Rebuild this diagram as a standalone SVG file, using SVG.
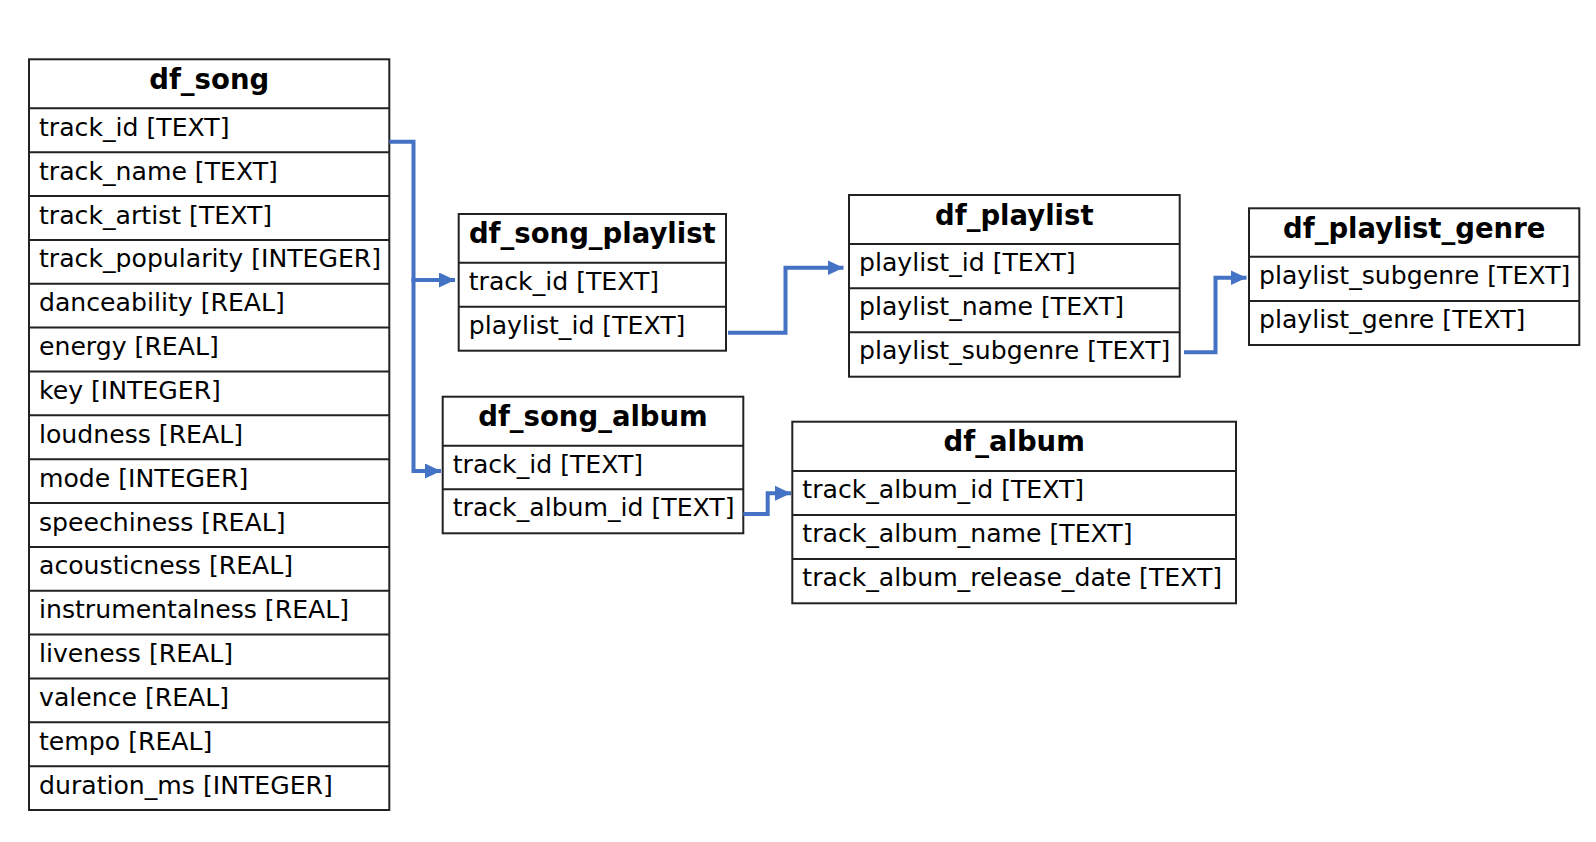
<svg xmlns="http://www.w3.org/2000/svg" width="1596" height="842" viewBox="0 0 1596 842">
<style>
.box{fill:#fff;stroke:#222;stroke-width:2}
.sep{stroke:#222;stroke-width:2}
.h{font-family:"DejaVu Sans",sans-serif;font-weight:bold;font-size:27.5px;fill:#000;text-anchor:middle}
.f{font-family:"DejaVu Sans",sans-serif;font-size:25.15px;fill:#000}
.c{fill:none;stroke:#4472C4;stroke-width:4}
</style>
<defs>
<marker id="arr" markerUnits="userSpaceOnUse" markerWidth="16" markerHeight="15" refX="16" refY="7.5" orient="auto">
<path d="M0,0 L16,7.5 L0,15 z" fill="#4472C4"/>
</marker>
</defs>
<rect width="1596" height="842" fill="#fff"/>
<g id="df_song">
<rect class="box" x="29" y="59.3" width="360.3" height="750.7"/>
<text class="h" x="209.2" y="89.3">df_song</text>
<path class="sep" d="M29,108.3H389.3M29,152.2H389.3M29,196H389.3M29,239.9H389.3M29,283.7H389.3M29,327.6H389.3M29,371.5H389.3M29,415.3H389.3M29,459.2H389.3M29,503H389.3M29,546.9H389.3M29,590.8H389.3M29,634.6H389.3M29,678.5H389.3M29,722.3H389.3M29,766.2H389.3"/>
<text class="f" x="39" y="135.8">track_id [TEXT]</text>
<text class="f" x="39" y="179.7">track_name [TEXT]</text>
<text class="f" x="39" y="223.5">track_artist [TEXT]</text>
<text class="f" x="39" y="267.4">track_popularity [INTEGER]</text>
<text class="f" x="39" y="311.2">danceability [REAL]</text>
<text class="f" x="39" y="355.1">energy [REAL]</text>
<text class="f" x="39" y="399">key [INTEGER]</text>
<text class="f" x="39" y="442.8">loudness [REAL]</text>
<text class="f" x="39" y="486.7">mode [INTEGER]</text>
<text class="f" x="39" y="530.5">speechiness [REAL]</text>
<text class="f" x="39" y="574.4">acousticness [REAL]</text>
<text class="f" x="39" y="618.3">instrumentalness [REAL]</text>
<text class="f" x="39" y="662.1">liveness [REAL]</text>
<text class="f" x="39" y="706">valence [REAL]</text>
<text class="f" x="39" y="749.8">tempo [REAL]</text>
<text class="f" x="39" y="793.7">duration_ms [INTEGER]</text>
</g>
<g id="df_song_playlist">
<rect class="box" x="458.7" y="214" width="267.3" height="136.7"/>
<text class="h" x="592.3" y="243">df_song_playlist</text>
<path class="sep" d="M458.7,262.7H726M458.7,306.7H726"/>
<text class="f" x="468.7" y="289.7">track_id [TEXT]</text>
<text class="f" x="468.7" y="333.7">playlist_id [TEXT]</text>
</g>
<g id="df_song_album">
<rect class="box" x="442.7" y="396.7" width="300.6" height="136.6"/>
<text class="h" x="593" y="425.7">df_song_album</text>
<path class="sep" d="M442.7,445.7H743.3M442.7,489.3H743.3"/>
<text class="f" x="452.7" y="472.5">track_id [TEXT]</text>
<text class="f" x="452.7" y="516.3">track_album_id [TEXT]</text>
</g>
<g id="df_playlist">
<rect class="box" x="849" y="195" width="330.7" height="181.7"/>
<text class="h" x="1014.3" y="224.5">df_playlist</text>
<path class="sep" d="M849,244H1179.7M849,288.3H1179.7M849,332.3H1179.7"/>
<text class="f" x="859" y="270.8">playlist_id [TEXT]</text>
<text class="f" x="859" y="315">playlist_name [TEXT]</text>
<text class="f" x="859" y="359">playlist_subgenre [TEXT]</text>
</g>
<g id="df_playlist_genre">
<rect class="box" x="1249" y="208.3" width="330.3" height="136.7"/>
<text class="h" x="1414.2" y="237.5">df_playlist_genre</text>
<path class="sep" d="M1249,256.7H1579.3M1249,301H1579.3"/>
<text class="f" x="1259" y="283.5">playlist_subgenre [TEXT]</text>
<text class="f" x="1259" y="327.7">playlist_genre [TEXT]</text>
</g>
<g id="df_album">
<rect class="box" x="792.3" y="421.7" width="443.7" height="181.6"/>
<text class="h" x="1014.2" y="451">df_album</text>
<path class="sep" d="M792.3,471H1236M792.3,515H1236M792.3,559H1236"/>
<text class="f" x="802.3" y="497.8">track_album_id [TEXT]</text>
<text class="f" x="802.3" y="541.8">track_album_name [TEXT]</text>
<text class="f" x="802.3" y="585.8">track_album_release_date [TEXT]</text>
</g>
<g id="connectors">
<path class="c" d="M389.3,141.7H413.5V280H455" marker-end="url(#arr)"/>
<path class="c" d="M413.5,278V471H441" marker-end="url(#arr)"/>
<path class="c" d="M728,332.7H785.5V267.7H843.5" marker-end="url(#arr)"/>
<path class="c" d="M743.3,514H767.7V493.3H791" marker-end="url(#arr)"/>
<path class="c" d="M1184,352.3H1215.5V277.7H1246.5" marker-end="url(#arr)"/>
</g>
</svg>
